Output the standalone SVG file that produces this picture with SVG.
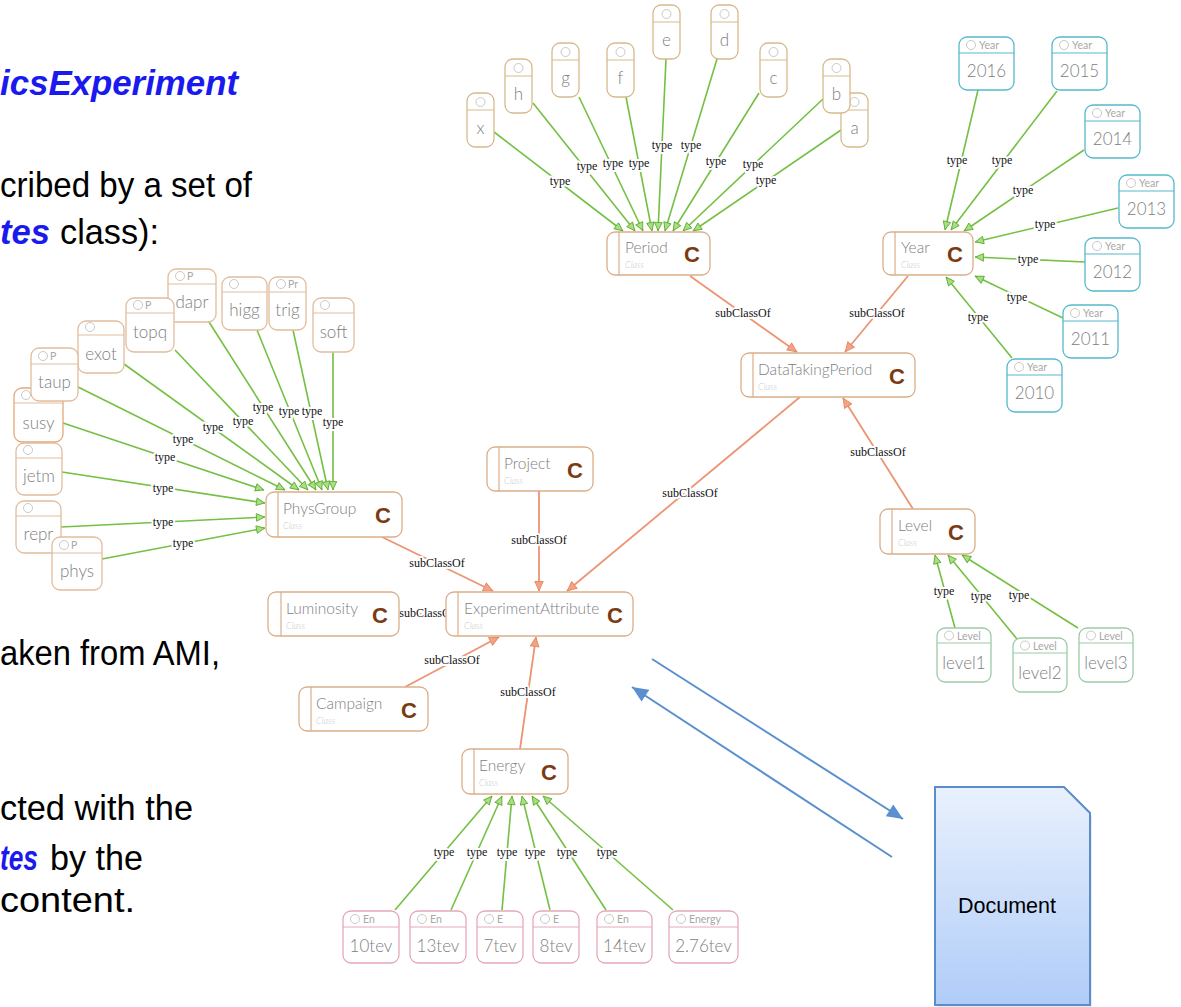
<svg xmlns="http://www.w3.org/2000/svg" width="1181" height="1007" viewBox="0 0 1181 1007">
<style>
.bt{font-family:"Liberation Sans",Arial,sans-serif;font-size:35px;fill:#000}
.bb{font-family:"Liberation Sans",Arial,sans-serif;font-size:35px;font-weight:bold;font-style:italic;fill:#1a1aee}
.ge{fill:none;stroke:#74c043;stroke-width:1.6}
.se{fill:none;stroke:#ec9474;stroke-width:1.8}
.be{fill:none;stroke:#5b8fcf;stroke-width:2}
.lb{font-family:"Liberation Serif","Times New Roman",serif;font-size:12px;fill:#111;text-anchor:middle;dominant-baseline:central;stroke:#fff;stroke-width:4;paint-order:stroke;stroke-linejoin:round}
.cr{fill:#fff;stroke:#dcae88;stroke-width:1.3}
.cv{stroke:#dcae88;stroke-width:1.2}
.ct{font-family:Lato,Roboto,"Liberation Sans",sans-serif;font-weight:300;font-size:15.5px;fill:#808080}
.cs{font-family:Lato,Roboto,"Liberation Sans",sans-serif;font-style:italic;font-weight:300;font-size:9px;fill:#c8c8c8}
.cc{font-family:"Liberation Sans",Arial,sans-serif;font-weight:bold;font-size:22px;fill:#7b3b12;text-anchor:middle}
.ir{fill:#fff;stroke-width:1.3}
.ic{fill:none;stroke:#c9c9c9;stroke-width:1}
.ih{font-family:Lato,Roboto,"Liberation Sans",sans-serif;font-size:10.5px;fill:#a8a8a8}
.im{font-family:Lato,Roboto,"Liberation Sans",sans-serif;font-weight:300;font-size:17px;fill:#808080;text-anchor:middle}
.kp{stroke:#d6ba8c}
.ky{stroke:#56b9cc}
.kg{stroke:#e2bc9c}
.ke{stroke:#e6a8b8}
.kl{stroke:#9ccaa8}
</style>
<defs>
<marker id="mt" viewBox="0 0 10 10" refX="10" refY="5" markerWidth="10" markerHeight="9" markerUnits="userSpaceOnUse" orient="auto"><path d="M0.5,0.8 L9.5,5 L0.5,9.2 z" fill="#a9de82" stroke="#5fae34" stroke-width="1"/></marker>
<marker id="ms" viewBox="0 0 10 10" refX="10" refY="5" markerWidth="11" markerHeight="10" markerUnits="userSpaceOnUse" orient="auto"><path d="M0.5,0.8 L9.5,5 L0.5,9.2 z" fill="#f2a486" stroke="#e88a66" stroke-width="1"/></marker>
<marker id="mb" viewBox="0 0 16 14" refX="16" refY="7" markerWidth="17" markerHeight="14" markerUnits="userSpaceOnUse" orient="auto"><path d="M0,0 L16,7 L0,14 z" fill="#5b8fcf"/></marker>
<linearGradient id="dg" x1="0" y1="0" x2="0" y2="1"><stop offset="0" stop-color="#e9f1fd"/><stop offset="1" stop-color="#b0ccf8"/></linearGradient>
</defs>

<g id="slide-text">
<text class="bb" x="0" y="95" textLength="238" lengthAdjust="spacingAndGlyphs">icsExperiment</text>
<text class="bt" x="0" y="197" textLength="252" lengthAdjust="spacingAndGlyphs">cribed by a set of</text>
<text class="bb" x="0" y="244" textLength="50" lengthAdjust="spacingAndGlyphs">tes</text>
<text class="bt" x="60" y="244" textLength="99" lengthAdjust="spacingAndGlyphs">class):</text>
<text class="bt" x="0" y="665" textLength="220" lengthAdjust="spacingAndGlyphs">aken from AMI,</text>
<text class="bt" x="0" y="820" textLength="193" lengthAdjust="spacingAndGlyphs">cted with the</text>
<text class="bb" x="0" y="870" textLength="38" lengthAdjust="spacingAndGlyphs">tes</text>
<text class="bt" x="50" y="870" textLength="93" lengthAdjust="spacingAndGlyphs">by the</text>
<text class="bt" x="0" y="912" textLength="135" lengthAdjust="spacingAndGlyphs">content.</text>
</g>

<g id="connectors">
<line class="ge" x1="494" y1="132" x2="623" y2="231" marker-end="url(#mt)"/>
<line class="ge" x1="533" y1="103" x2="635" y2="231" marker-end="url(#mt)"/>
<line class="ge" x1="579" y1="97" x2="643" y2="231" marker-end="url(#mt)"/>
<line class="ge" x1="626" y1="97" x2="652" y2="231" marker-end="url(#mt)"/>
<line class="ge" x1="666" y1="59" x2="658" y2="231" marker-end="url(#mt)"/>
<line class="ge" x1="717" y1="59" x2="665" y2="231" marker-end="url(#mt)"/>
<line class="ge" x1="759" y1="93" x2="673" y2="231" marker-end="url(#mt)"/>
<line class="ge" x1="823" y1="99" x2="683" y2="231" marker-end="url(#mt)"/>
<line class="ge" x1="841" y1="130" x2="693" y2="231" marker-end="url(#mt)"/>
<line class="ge" x1="978" y1="90" x2="945" y2="230" marker-end="url(#mt)"/>
<line class="ge" x1="1057" y1="91" x2="951" y2="230" marker-end="url(#mt)"/>
<line class="ge" x1="1084" y1="150" x2="964" y2="231" marker-end="url(#mt)"/>
<line class="ge" x1="1118" y1="208" x2="975" y2="242" marker-end="url(#mt)"/>
<line class="ge" x1="1085" y1="262" x2="975" y2="257" marker-end="url(#mt)"/>
<line class="ge" x1="1063" y1="318" x2="975" y2="276" marker-end="url(#mt)"/>
<line class="ge" x1="1012" y1="358" x2="946" y2="277" marker-end="url(#mt)"/>
<line class="ge" x1="333" y1="352" x2="333" y2="490" marker-end="url(#mt)"/>
<line class="ge" x1="293" y1="330" x2="328" y2="490" marker-end="url(#mt)"/>
<line class="ge" x1="257" y1="330" x2="322" y2="490" marker-end="url(#mt)"/>
<line class="ge" x1="209" y1="322" x2="316" y2="490" marker-end="url(#mt)"/>
<line class="ge" x1="175" y1="350" x2="308" y2="490" marker-end="url(#mt)"/>
<line class="ge" x1="124" y1="364" x2="299" y2="490" marker-end="url(#mt)"/>
<line class="ge" x1="78" y1="387" x2="285" y2="490" marker-end="url(#mt)"/>
<line class="ge" x1="63" y1="423" x2="264" y2="490" marker-end="url(#mt)"/>
<line class="ge" x1="62" y1="472" x2="265" y2="503" marker-end="url(#mt)"/>
<line class="ge" x1="61" y1="527" x2="265" y2="517" marker-end="url(#mt)"/>
<line class="ge" x1="102" y1="559" x2="265" y2="528" marker-end="url(#mt)"/>
<line class="ge" x1="395" y1="910" x2="492" y2="796" marker-end="url(#mt)"/>
<line class="ge" x1="451" y1="910" x2="502" y2="796" marker-end="url(#mt)"/>
<line class="ge" x1="502" y1="910" x2="512" y2="796" marker-end="url(#mt)"/>
<line class="ge" x1="550" y1="910" x2="522" y2="796" marker-end="url(#mt)"/>
<line class="ge" x1="606" y1="910" x2="532" y2="796" marker-end="url(#mt)"/>
<line class="ge" x1="673" y1="910" x2="543" y2="796" marker-end="url(#mt)"/>
<line class="ge" x1="955" y1="628" x2="935" y2="555" marker-end="url(#mt)"/>
<line class="ge" x1="1017" y1="639" x2="948" y2="555" marker-end="url(#mt)"/>
<line class="ge" x1="1078" y1="628" x2="962" y2="555" marker-end="url(#mt)"/>
<line class="se" x1="690" y1="276" x2="797" y2="352" marker-end="url(#ms)"/>
<line class="se" x1="908" y1="276" x2="845" y2="352" marker-end="url(#ms)"/>
<line class="se" x1="913" y1="509" x2="843" y2="398" marker-end="url(#ms)"/>
<line class="se" x1="800" y1="397" x2="567" y2="591" marker-end="url(#ms)"/>
<line class="se" x1="539" y1="491" x2="539" y2="591" marker-end="url(#ms)"/>
<line class="se" x1="382" y1="537" x2="493" y2="591" marker-end="url(#ms)"/>
<line class="se" x1="399" y1="614" x2="446" y2="614" marker-end="url(#ms)"/>
<line class="se" x1="405" y1="687" x2="499" y2="637" marker-end="url(#ms)"/>
<line class="se" x1="520" y1="749" x2="536" y2="637" marker-end="url(#ms)"/>
<line class="be" x1="652" y1="659" x2="903" y2="819" marker-end="url(#mb)"/>
<line class="be" x1="892" y1="857" x2="632" y2="687" marker-end="url(#mb)"/>

<g id="edge-labels">
<text class="lb" x="560" y="181">type</text>
<text class="lb" x="587" y="166">type</text>
<text class="lb" x="613" y="163">type</text>
<text class="lb" x="639" y="163">type</text>
<text class="lb" x="662" y="145">type</text>
<text class="lb" x="691" y="145">type</text>
<text class="lb" x="716" y="161">type</text>
<text class="lb" x="753" y="164">type</text>
<text class="lb" x="766" y="180">type</text>
<text class="lb" x="957" y="160">type</text>
<text class="lb" x="1002" y="160">type</text>
<text class="lb" x="1023" y="190">type</text>
<text class="lb" x="1045" y="224">type</text>
<text class="lb" x="1028" y="259">type</text>
<text class="lb" x="1017" y="297">type</text>
<text class="lb" x="978" y="317">type</text>
<text class="lb" x="333" y="422">type</text>
<text class="lb" x="263" y="407">type</text>
<text class="lb" x="243" y="421">type</text>
<text class="lb" x="213" y="427">type</text>
<text class="lb" x="183" y="439">type</text>
<text class="lb" x="165" y="457">type</text>
<text class="lb" x="163" y="488">type</text>
<text class="lb" x="163" y="522">type</text>
<text class="lb" x="183" y="543">type</text>
<text class="lb" x="289" y="411">type</text>
<text class="lb" x="312" y="411">type</text>
<text class="lb" x="444" y="852">type</text>
<text class="lb" x="477" y="852">type</text>
<text class="lb" x="507" y="852">type</text>
<text class="lb" x="535" y="852">type</text>
<text class="lb" x="567" y="852">type</text>
<text class="lb" x="607" y="852">type</text>
<text class="lb" x="944" y="591">type</text>
<text class="lb" x="981" y="596">type</text>
<text class="lb" x="1019" y="595">type</text>
<text class="lb" x="743" y="313">subClassOf</text>
<text class="lb" x="877" y="313">subClassOf</text>
<text class="lb" x="878" y="452">subClassOf</text>
<text class="lb" x="690" y="493">subClassOf</text>
<text class="lb" x="539" y="540">subClassOf</text>
<text class="lb" x="437" y="563">subClassOf</text>
<text class="lb" x="427" y="613">subClassOf</text>
<text class="lb" x="452" y="660">subClassOf</text>
<text class="lb" x="528" y="692">subClassOf</text>
</g>
</g>

<g id="n-Period"><rect class="cr" x="607" y="232" width="103" height="43" rx="8"/><line class="cv" x1="619" y1="232" x2="619" y2="275"/><text class="ct" x="625" y="253">Period</text><text class="cs" x="625" y="268">Class</text><text class="cc" x="692" y="262">C</text></g>
<g id="n-Year"><rect class="cr" x="883" y="232" width="90" height="43" rx="8"/><line class="cv" x1="895" y1="232" x2="895" y2="275"/><text class="ct" x="901" y="253">Year</text><text class="cs" x="901" y="268">Class</text><text class="cc" x="955" y="262">C</text></g>
<g id="n-DataTakingPeriod"><rect class="cr" x="741" y="353" width="174" height="44" rx="8"/><line class="cv" x1="753" y1="353" x2="753" y2="397"/><text class="ct" x="758" y="375">DataTakingPeriod</text><text class="cs" x="758" y="390">Class</text><text class="cc" x="897" y="384">C</text></g>
<g id="n-Project"><rect class="cr" x="487" y="447" width="106" height="44" rx="8"/><line class="cv" x1="499" y1="447" x2="499" y2="491"/><text class="ct" x="504" y="469">Project</text><text class="cs" x="504" y="484">Class</text><text class="cc" x="575" y="478">C</text></g>
<g id="n-PhysGroup"><rect class="cr" x="266" y="492" width="136" height="45" rx="8"/><line class="cv" x1="278" y1="492" x2="278" y2="537"/><text class="ct" x="283" y="514">PhysGroup</text><text class="cs" x="283" y="529">Class</text><text class="cc" x="383" y="523">C</text></g>
<g id="n-Luminosity"><rect class="cr" x="268" y="592" width="131" height="44" rx="8"/><line class="cv" x1="281" y1="592" x2="281" y2="636"/><text class="ct" x="286" y="614">Luminosity</text><text class="cs" x="286" y="629">Class</text><text class="cc" x="380" y="623">C</text></g>
<g id="n-ExperimentAttribute"><rect class="cr" x="446" y="592" width="187" height="44" rx="8"/><line class="cv" x1="458" y1="592" x2="458" y2="636"/><text class="ct" x="464" y="614">ExperimentAttribute</text><text class="cs" x="464" y="629">Class</text><text class="cc" x="615" y="623">C</text></g>
<g id="n-Campaign"><rect class="cr" x="299" y="687" width="129" height="44" rx="8"/><line class="cv" x1="311" y1="687" x2="311" y2="731"/><text class="ct" x="316" y="709">Campaign</text><text class="cs" x="316" y="724">Class</text><text class="cc" x="409" y="718">C</text></g>
<g id="n-Energy"><rect class="cr" x="462" y="749" width="106" height="45" rx="8"/><line class="cv" x1="474" y1="749" x2="474" y2="794"/><text class="ct" x="479" y="771">Energy</text><text class="cs" x="479" y="786">Class</text><text class="cc" x="549" y="780">C</text></g>
<g id="n-Level"><rect class="cr" x="880" y="509" width="95" height="45" rx="8"/><line class="cv" x1="892" y1="509" x2="892" y2="554"/><text class="ct" x="898" y="531">Level</text><text class="cs" x="898" y="546">Class</text><text class="cc" x="956" y="540">C</text></g>

<g id="n-x"><rect class="ir kp" x="467" y="93" width="27" height="54" rx="8"/><line class="kp" x1="467" y1="110" x2="494" y2="110"/><circle class="ic" cx="480.5" cy="102" r="4.5"/><text class="im" x="480.5" y="134">x</text></g>
<g id="n-h"><rect class="ir kp" x="505" y="59" width="27" height="54" rx="8"/><line class="kp" x1="505" y1="76" x2="532" y2="76"/><circle class="ic" cx="518.5" cy="68" r="4.5"/><text class="im" x="518.5" y="100">h</text></g>
<g id="n-g"><rect class="ir kp" x="552" y="43" width="27" height="54" rx="8"/><line class="kp" x1="552" y1="60" x2="579" y2="60"/><circle class="ic" cx="565.5" cy="52" r="4.5"/><text class="im" x="565.5" y="84">g</text></g>
<g id="n-f"><rect class="ir kp" x="607" y="43" width="27" height="54" rx="8"/><line class="kp" x1="607" y1="60" x2="634" y2="60"/><circle class="ic" cx="620.5" cy="52" r="4.5"/><text class="im" x="620.5" y="84">f</text></g>
<g id="n-e"><rect class="ir kp" x="653" y="5" width="27" height="54" rx="8"/><line class="kp" x1="653" y1="22" x2="680" y2="22"/><circle class="ic" cx="666.5" cy="14" r="4.5"/><text class="im" x="666.5" y="46">e</text></g>
<g id="n-d"><rect class="ir kp" x="711" y="5" width="27" height="54" rx="8"/><line class="kp" x1="711" y1="22" x2="738" y2="22"/><circle class="ic" cx="724.5" cy="14" r="4.5"/><text class="im" x="724.5" y="46">d</text></g>
<g id="n-c"><rect class="ir kp" x="760" y="43" width="27" height="54" rx="8"/><line class="kp" x1="760" y1="60" x2="787" y2="60"/><circle class="ic" cx="773.5" cy="52" r="4.5"/><text class="im" x="773.5" y="84">c</text></g>
<g id="n-a"><rect class="ir kp" x="841" y="93" width="27" height="54" rx="8"/><line class="kp" x1="841" y1="110" x2="868" y2="110"/><circle class="ic" cx="854.5" cy="102" r="4.5"/><text class="im" x="854.5" y="134">a</text></g>
<g id="n-b"><rect class="ir kp" x="823" y="59" width="27" height="54" rx="8"/><line class="kp" x1="823" y1="76" x2="850" y2="76"/><circle class="ic" cx="836.5" cy="68" r="4.5"/><text class="im" x="836.5" y="100">b</text></g>

<g id="n-2016"><rect class="ir ky" x="959" y="37" width="55" height="53" rx="8"/><line class="ky" x1="959" y1="53" x2="1014" y2="53"/><circle class="ic" cx="971" cy="45" r="4.5"/><text class="ih" x="979" y="49">Year</text><text class="im" x="986.5" y="77">2016</text></g>
<g id="n-2015"><rect class="ir ky" x="1052" y="37" width="55" height="53" rx="8"/><line class="ky" x1="1052" y1="53" x2="1107" y2="53"/><circle class="ic" cx="1064" cy="45" r="4.5"/><text class="ih" x="1072" y="49">Year</text><text class="im" x="1079.5" y="77">2015</text></g>
<g id="n-2014"><rect class="ir ky" x="1085" y="105" width="55" height="53" rx="8"/><line class="ky" x1="1085" y1="121" x2="1140" y2="121"/><circle class="ic" cx="1097" cy="113" r="4.5"/><text class="ih" x="1105" y="117">Year</text><text class="im" x="1112.5" y="145">2014</text></g>
<g id="n-2013"><rect class="ir ky" x="1119" y="175" width="55" height="53" rx="8"/><line class="ky" x1="1119" y1="191" x2="1174" y2="191"/><circle class="ic" cx="1131" cy="183" r="4.5"/><text class="ih" x="1139" y="187">Year</text><text class="im" x="1146.5" y="215">2013</text></g>
<g id="n-2012"><rect class="ir ky" x="1085" y="238" width="55" height="53" rx="8"/><line class="ky" x1="1085" y1="254" x2="1140" y2="254"/><circle class="ic" cx="1097" cy="246" r="4.5"/><text class="ih" x="1105" y="250">Year</text><text class="im" x="1112.5" y="278">2012</text></g>
<g id="n-2011"><rect class="ir ky" x="1063" y="305" width="55" height="53" rx="8"/><line class="ky" x1="1063" y1="321" x2="1118" y2="321"/><circle class="ic" cx="1075" cy="313" r="4.5"/><text class="ih" x="1083" y="317">Year</text><text class="im" x="1090.5" y="345">2011</text></g>
<g id="n-2010"><rect class="ir ky" x="1007" y="359" width="55" height="53" rx="8"/><line class="ky" x1="1007" y1="375" x2="1062" y2="375"/><circle class="ic" cx="1019" cy="367" r="4.5"/><text class="ih" x="1027" y="371">Year</text><text class="im" x="1034.5" y="399">2010</text></g>

<g id="n-dapr"><rect class="ir kg" x="168" y="269" width="48" height="53" rx="8"/><line class="kg" x1="168" y1="284" x2="216" y2="284"/><circle class="ic" cx="180" cy="276" r="4.5"/><text class="ih" x="187" y="280">P</text><text class="im" x="192" y="308">dapr</text></g>
<g id="n-higg"><rect class="ir kg" x="222" y="277" width="45" height="53" rx="8"/><line class="kg" x1="222" y1="292" x2="267" y2="292"/><circle class="ic" cx="234" cy="284" r="4.5"/><text class="im" x="244.5" y="316">higg</text></g>
<g id="n-trig"><rect class="ir kg" x="269" y="277" width="37" height="53" rx="8"/><line class="kg" x1="269" y1="292" x2="306" y2="292"/><circle class="ic" cx="281" cy="284" r="4.5"/><text class="ih" x="288" y="288">Pr</text><text class="im" x="287.5" y="316">trig</text></g>
<g id="n-soft"><rect class="ir kg" x="313" y="298" width="41" height="54" rx="8"/><line class="kg" x1="313" y1="313" x2="354" y2="313"/><circle class="ic" cx="325" cy="305" r="4.5"/><text class="im" x="333.5" y="338">soft</text></g>
<g id="n-topq"><rect class="ir kg" x="126" y="298" width="48" height="54" rx="8"/><line class="kg" x1="126" y1="313" x2="174" y2="313"/><circle class="ic" cx="138" cy="305" r="4.5"/><text class="ih" x="145" y="309">P</text><text class="im" x="150" y="338">topq</text></g>
<g id="n-exot"><rect class="ir kg" x="78" y="321" width="46" height="52" rx="8"/><line class="kg" x1="78" y1="335" x2="124" y2="335"/><circle class="ic" cx="90" cy="327" r="4.5"/><text class="im" x="101" y="360">exot</text></g>
<g id="n-susy"><rect class="ir" style="stroke:#e6a778" x="14" y="388" width="49" height="54" rx="8"/><line class="kg" x1="14" y1="403" x2="63" y2="403"/><circle class="ic" cx="26" cy="395" r="4.5"/><text class="im" x="38.5" y="429">susy</text></g>
<g id="n-taup"><rect class="ir kg" x="31" y="348" width="47" height="53" rx="8"/><line class="kg" x1="31" y1="364" x2="78" y2="364"/><circle class="ic" cx="43" cy="356" r="4.5"/><text class="ih" x="50" y="360">P</text><text class="im" x="54.5" y="388">taup</text></g>
<g id="n-jetm"><rect class="ir kg" x="16" y="443" width="46" height="52" rx="8"/><line class="kg" x1="16" y1="458" x2="62" y2="458"/><circle class="ic" cx="28" cy="450" r="4.5"/><text class="im" x="39" y="482">jetm</text></g>
<g id="n-repr"><rect class="ir kg" x="16" y="501" width="45" height="52" rx="8"/><line class="kg" x1="16" y1="516" x2="61" y2="516"/><circle class="ic" cx="28" cy="508" r="4.5"/><text class="im" x="38.5" y="540">repr</text></g>
<g id="n-phys"><rect class="ir kg" x="52" y="537" width="50" height="53" rx="8"/><line class="kg" x1="52" y1="553" x2="102" y2="553"/><circle class="ic" cx="64" cy="545" r="4.5"/><text class="ih" x="71" y="549">P</text><text class="im" x="77" y="577">phys</text></g>

<g id="n-10tev"><rect class="ir ke" x="343" y="911" width="56" height="52" rx="8"/><line class="ke" x1="343" y1="927" x2="399" y2="927"/><circle class="ic" cx="355" cy="919" r="4.5"/><text class="ih" x="363" y="923">En</text><text class="im" x="371" y="952">10tev</text></g>
<g id="n-13tev"><rect class="ir ke" x="410" y="911" width="56" height="52" rx="8"/><line class="ke" x1="410" y1="927" x2="466" y2="927"/><circle class="ic" cx="422" cy="919" r="4.5"/><text class="ih" x="430" y="923">En</text><text class="im" x="438" y="952">13tev</text></g>
<g id="n-7tev"><rect class="ir ke" x="477" y="911" width="46" height="52" rx="8"/><line class="ke" x1="477" y1="927" x2="523" y2="927"/><circle class="ic" cx="489" cy="919" r="4.5"/><text class="ih" x="497" y="923">E</text><text class="im" x="500" y="952">7tev</text></g>
<g id="n-8tev"><rect class="ir ke" x="533" y="911" width="46" height="52" rx="8"/><line class="ke" x1="533" y1="927" x2="579" y2="927"/><circle class="ic" cx="545" cy="919" r="4.5"/><text class="ih" x="553" y="923">E</text><text class="im" x="556" y="952">8tev</text></g>
<g id="n-14tev"><rect class="ir ke" x="597" y="911" width="55" height="52" rx="8"/><line class="ke" x1="597" y1="927" x2="652" y2="927"/><circle class="ic" cx="609" cy="919" r="4.5"/><text class="ih" x="617" y="923">En</text><text class="im" x="624.5" y="952">14tev</text></g>
<g id="n-2.76tev"><rect class="ir ke" x="669" y="911" width="69" height="52" rx="8"/><line class="ke" x1="669" y1="927" x2="738" y2="927"/><circle class="ic" cx="681" cy="919" r="4.5"/><text class="ih" x="689" y="923">Energy</text><text class="im" x="703.5" y="952">2.76tev</text></g>

<g id="n-level1"><rect class="ir kl" x="937" y="628" width="54" height="54" rx="8"/><line class="kl" x1="937" y1="643" x2="991" y2="643"/><circle class="ic" cx="949" cy="635.5" r="4.5"/><text class="ih" x="957" y="639.5">Level</text><text class="im" x="964" y="669">level1</text></g>
<g id="n-level2"><rect class="ir kl" x="1013" y="638" width="54" height="54" rx="8"/><line class="kl" x1="1013" y1="653" x2="1067" y2="653"/><circle class="ic" cx="1025" cy="645.5" r="4.5"/><text class="ih" x="1033" y="649.5">Level</text><text class="im" x="1040" y="679">level2</text></g>
<g id="n-level3"><rect class="ir kl" x="1079" y="628" width="54" height="54" rx="8"/><line class="kl" x1="1079" y1="643" x2="1133" y2="643"/><circle class="ic" cx="1091" cy="635.5" r="4.5"/><text class="ih" x="1099" y="639.5">Level</text><text class="im" x="1106" y="669">level3</text></g>

<g id="n-Document">
<path d="M937,790 H1066 L1092,816 V1008 H937 Z" fill="#000" opacity="0.08"/>
<path d="M935,787 H1064 L1090,813 V1005 H935 Z" fill="url(#dg)" stroke="#5b8ccc" stroke-width="2"/>
<text x="1007" y="913" font-family="Liberation Sans,Arial,sans-serif" font-size="21.5" fill="#000" text-anchor="middle">Document</text>
</g>
</svg>
